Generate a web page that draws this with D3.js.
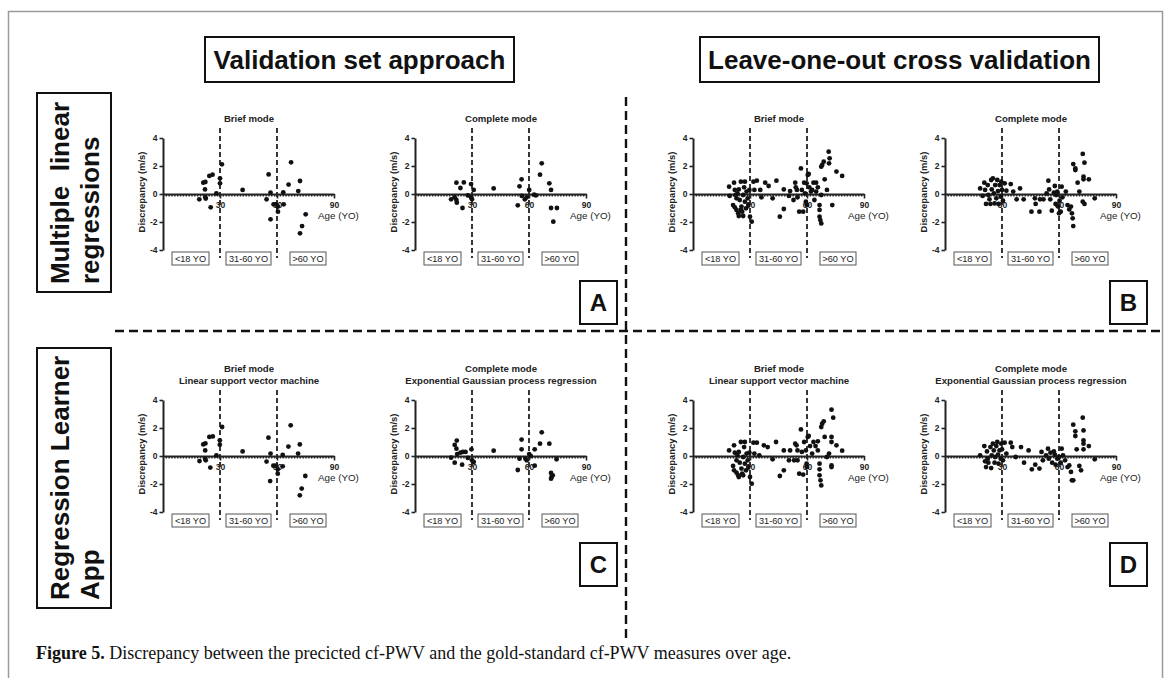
<!DOCTYPE html>
<html>
<head>
<meta charset="utf-8">
<script src="https://cdn.jsdelivr.net/npm/d3@7"></script>
<style>
  body { margin: 0; background: #fff; }
  svg { display: block; font-family: "Liberation Sans", Arial, sans-serif; }
</style>
</head>
<body>
<div id="fig"></div>
<script>
// ---- data ----
const ageGroups = ["<18 YO", "31-60 YO", ">60 YO"]
const xTicks = [30, 60, 90]
const yTicks = [-4, -2, 0, 2, 4]
const ageCutoffs = [30, 60]
const methodLabels = ["Validation set approach", "Leave-one-out cross validation"]
const modelLabels = [["Multiple  linear", "regressions"], ["Regression Learner", "App"]]
const panelLetters = ["A", "B", "C", "D"]
const row1Titles = [["Brief mode"], ["Complete mode"]]
const row2Titles = [["Brief mode", "Linear support vector machine"], ["Complete mode", "Exponential Gaussian process regression"]]
const caption = "Discrepancy between the precicted cf-PWV and the gold-standard cf-PWV measures over age."

// [age, discrepancy]
const mlrVsaBrief = [[19.1,-0.38],[21.2,0.81],[22.3,0.86],[22.1,0.33],[22.3,-0.24],[22.5,-0.33],[24.4,1.29],[26.1,1.38],[25.1,-0.95],[28.1,0.05],[30.0,1.12],[30.0,0.76],[31.0,2.12],[41.9,0.29],[54.5,-0.38],[55.6,1.40],[56.6,0.10],[56.6,-1.81],[58.2,-0.74],[59.5,-0.74],[60.5,-1.26],[60.5,-0.90],[63.3,0.12],[63.5,-0.74],[66.1,0.67],[67.4,2.26],[71.2,0.21],[72.1,0.93],[72.1,-2.81],[73.2,-2.29],[75.1,-1.45]]
const mlrVsaComplete = [[19.0,-0.38],[20.9,-0.24],[21.8,0.81],[21.8,-0.43],[22.0,-0.62],[23.9,0.43],[25.0,-1.00],[25.7,0.83],[27.8,-0.10],[29.5,0.71],[29.5,-0.24],[30.0,-0.38],[30.9,0.29],[41.4,0.40],[54.1,-0.81],[55.0,0.55],[56.1,1.05],[56.2,-0.14],[57.8,-0.38],[58.8,-0.24],[60.1,0.29],[62.7,-0.05],[63.6,-0.10],[65.8,1.38],[66.7,2.19],[70.7,0.76],[71.6,0.29],[71.6,-1.00],[72.8,-1.98],[74.7,-1.00]]
const mlrLooBrief = [[19.0,0.52],[19.3,-0.14],[21.6,0.81],[22.0,0.29],[21.1,-0.79],[22.0,-0.95],[22.9,-1.14],[23.8,-1.38],[24.1,-1.57],[22.9,-0.31],[23.4,0.05],[24.1,0.33],[25.2,0.88],[24.6,-0.43],[25.5,-0.90],[25.9,-1.26],[26.4,-0.07],[26.9,0.48],[27.3,0.88],[27.3,-0.55],[27.9,-1.02],[28.2,0.17],[28.8,-0.31],[29.1,-0.79],[26.4,-1.57],[25.2,-1.14],[22.4,-0.07],[29.7,0.29],[30.0,-1.62],[30.9,-1.98],[31.8,0.88],[32.3,0.29],[33.6,0.95],[35.4,0.29],[36.0,-0.24],[38.0,0.81],[39.8,0.57],[41.9,-0.31],[43.9,0.95],[45.7,-1.62],[47.8,-1.07],[47.8,0.33],[50.5,-0.14],[51.1,0.21],[52.9,-0.43],[53.8,0.81],[54.1,0.48],[54.7,0.29],[55.0,-0.24],[55.9,-1.26],[56.8,1.83],[57.3,0.29],[58.0,-1.26],[58.5,0.81],[58.9,0.05],[59.4,-0.55],[59.8,0.76],[60.0,-0.79],[60.4,1.36],[60.9,1.43],[61.2,0.48],[62.1,0.17],[62.7,0.29],[63.4,0.81],[63.9,-0.43],[64.8,0.81],[64.8,0.17],[65.7,0.48],[66.6,-0.79],[66.6,-1.14],[66.6,-1.62],[67.0,-1.86],[67.5,-2.10],[67.5,-0.07],[67.5,1.95],[68.0,2.07],[68.8,2.31],[69.3,1.05],[70.5,0.29],[71.4,3.02],[71.9,2.55],[71.6,2.19],[73.3,-0.79],[75.5,1.60],[78.5,1.29]]
const mlrLooComplete = [[18.5,0.40],[19.8,-0.14],[20.7,0.81],[21.1,0.29],[21.6,-0.71],[22.5,0.64],[22.8,-0.07],[23.4,-0.38],[23.9,-0.71],[24.3,1.00],[24.6,0.33],[25.2,1.12],[25.7,0.05],[26.1,-0.67],[26.4,0.64],[27.0,-0.31],[27.5,1.00],[27.9,0.21],[28.2,-0.71],[28.7,0.64],[29.3,-0.19],[29.6,0.88],[30.0,0.29],[30.5,-0.48],[31.4,0.76],[32.3,0.24],[34.6,0.71],[35.9,0.17],[37.7,-0.38],[39.5,0.40],[41.4,-0.38],[45.5,-1.26],[47.3,-0.31],[47.7,-0.71],[49.7,-1.26],[50.0,-0.38],[51.8,-0.38],[53.5,0.05],[54.4,0.95],[54.8,0.33],[55.4,-0.38],[56.2,-1.19],[57.3,0.10],[57.8,0.57],[58.2,-0.71],[58.5,-0.07],[59.1,0.17],[59.6,-0.90],[60.0,-1.38],[60.3,-0.48],[60.9,-1.26],[61.4,0.52],[61.8,-0.24],[63.6,0.17],[64.5,-0.79],[65.4,-1.10],[66.3,-0.90],[66.8,-1.38],[67.2,-1.74],[67.5,-2.29],[67.5,2.14],[68.6,1.83],[68.6,1.71],[69.8,0.81],[70.7,0.17],[72.5,2.86],[72.9,1.05],[72.9,1.24],[73.4,2.24],[72.5,-0.55],[73.4,-0.71],[75.7,1.05],[78.8,-0.31]]
const rlaVsaBrief = [[19.2,-0.36],[21.2,0.83],[22.3,0.90],[22.2,0.40],[22.2,-0.19],[22.5,-0.31],[24.4,1.36],[26.2,1.40],[24.9,-0.83],[28.1,0.05],[29.9,1.12],[29.9,0.81],[31.1,2.07],[41.9,0.33],[54.5,-0.40],[55.5,1.31],[56.6,0.17],[56.4,-1.79],[58.1,-0.69],[59.3,-0.69],[60.4,-1.26],[60.4,-0.95],[63.0,0.07],[63.0,-0.74],[66.0,0.67],[67.2,2.19],[71.1,0.17],[72.0,0.83],[72.0,-2.81],[73.0,-2.33],[74.9,-1.43]]
const rlaVsaComplete = [[19.0,-0.12],[20.9,0.79],[22.0,1.10],[21.8,0.52],[20.9,-0.48],[22.2,0.14],[23.9,0.24],[25.3,0.29],[24.8,-0.62],[26.6,0.29],[27.8,-0.14],[29.7,0.48],[30.0,-0.31],[30.9,-0.43],[41.4,0.38],[54.1,-1.00],[55.0,-0.19],[56.1,1.17],[56.1,0.48],[58.1,-0.19],[58.8,-0.31],[60.1,0.14],[60.9,0.00],[63.0,-0.69],[63.0,0.48],[65.8,0.88],[66.7,1.69],[70.7,0.88],[71.6,-1.21],[71.9,-1.50],[71.6,-1.62],[72.5,-1.38],[74.5,-0.24]]
const rlaLooBrief = [[19.0,0.40],[21.6,0.76],[22.0,0.24],[21.1,-0.71],[21.6,-1.02],[22.9,-1.19],[23.8,-1.38],[24.1,-1.50],[22.9,-0.31],[23.4,0.05],[24.1,0.29],[25.2,1.00],[24.6,-0.48],[25.5,-0.90],[25.9,-1.26],[26.4,-0.07],[26.9,0.64],[27.3,1.00],[27.3,-0.55],[27.9,-1.02],[28.2,0.17],[28.8,-0.31],[29.1,-0.79],[26.4,-1.38],[29.7,0.24],[30.0,-1.50],[30.9,-1.98],[31.8,0.95],[32.3,0.17],[33.6,0.95],[34.9,0.05],[37.3,0.76],[39.3,0.64],[41.9,-0.24],[43.7,1.00],[45.7,-1.43],[47.8,-1.02],[47.8,0.40],[50.5,-0.31],[51.1,0.40],[53.2,-0.31],[53.8,0.88],[54.5,0.76],[55.0,0.40],[55.0,-0.31],[55.9,-1.26],[56.8,1.90],[57.3,0.29],[58.0,-1.33],[58.5,1.00],[59.4,0.40],[59.8,-0.55],[60.0,-0.79],[60.4,1.36],[60.9,1.43],[61.6,0.71],[62.7,0.17],[63.4,1.00],[64.5,0.71],[65.7,1.05],[65.7,0.40],[66.6,-0.55],[66.6,-0.95],[66.6,-1.38],[67.1,-1.74],[67.5,-2.10],[67.5,2.07],[68.0,2.31],[68.8,2.48],[69.3,1.36],[70.5,-0.07],[71.6,0.17],[72.9,3.31],[73.8,2.74],[72.9,1.36],[72.9,1.00],[72.9,-0.67],[72.9,-0.79],[75.5,0.76],[78.5,0.38]]
const rlaLooComplete = [[18.5,0.05],[20.7,0.71],[21.1,-0.38],[21.6,-0.79],[22.1,0.33],[22.5,-0.19],[22.8,-0.48],[23.9,0.64],[24.3,-0.86],[24.6,0.05],[25.2,0.88],[25.7,0.40],[26.1,-0.48],[26.4,-0.07],[27.0,0.71],[27.5,1.00],[27.9,0.10],[28.2,-0.55],[28.7,0.40],[29.3,-0.19],[29.6,0.88],[30.0,0.48],[30.5,-0.31],[31.4,0.95],[32.3,0.17],[34.6,0.95],[35.4,0.64],[37.2,-0.07],[40.0,0.64],[41.6,-0.48],[44.0,0.40],[45.7,-0.95],[47.5,-0.62],[49.7,-0.90],[50.8,0.29],[51.5,-0.31],[53.2,0.05],[54.2,0.52],[54.6,-0.19],[55.5,0.24],[56.4,-0.48],[57.3,0.33],[57.8,0.10],[58.2,-0.62],[59.1,-0.19],[60.0,-0.07],[60.9,-0.48],[61.4,0.52],[62.1,0.05],[63.2,-0.31],[64.5,-0.79],[65.4,-0.67],[66.3,-1.14],[66.8,-1.74],[67.5,-1.74],[67.5,2.24],[68.6,1.76],[68.6,1.43],[69.3,0.48],[70.7,-0.71],[71.6,-1.02],[72.5,2.74],[72.9,1.83],[72.9,1.12],[72.9,0.88],[72.9,0.48],[75.7,0.71],[78.8,-0.24]]

// ---- layout ----
const width = 1171
const height = 678
const colX = [163, 415, 693, 945]   // y-axis position of each scatter
const rowY = [194, 456]             // zero line of each row
const plotW = 171
const halfH = 56

const svg = d3.select("#fig").append("svg")
  .attr("width", width)
  .attr("height", height)
  .attr("viewBox", [0, 0, width, height])

// outer frame
svg.append("rect")
  .attr("x", 8.5).attr("y", 11.5)
  .attr("width", 1154).attr("height", 700)
  .attr("fill", "none").attr("stroke", "#9a9a9a").attr("stroke-width", 1.5)

// method headers
const headers = [{x: 205, w: 309}, {x: 700, w: 399}]
headers.forEach((h, i) => {
  svg.append("rect")
    .attr("x", h.x).attr("y", 37).attr("width", h.w).attr("height", 45)
    .attr("fill", "none").attr("stroke", "#111").attr("stroke-width", 2)
  svg.append("text")
    .attr("x", h.x + h.w / 2).attr("y", 68.5)
    .attr("text-anchor", "middle")
    .attr("font-size", 26).attr("font-weight", "bold").attr("fill", "#111")
    .text(methodLabels[i])
})

// model row labels (rotated)
const rowBoxes = [{y: 93, h: 199}, {y: 348, h: 260}]
rowBoxes.forEach((b, i) => {
  svg.append("rect")
    .attr("x", 37).attr("y", b.y).attr("width", 74).attr("height", b.h)
    .attr("fill", "none").attr("stroke", "#111").attr("stroke-width", 2)
  const bottom = b.y + b.h - 8
  modelLabels[i].forEach((line, j) => {
    svg.append("text")
      .attr("transform", `translate(${69 + j * 30},${bottom}) rotate(-90)`)
      .attr("font-size", 26).attr("font-weight", "bold").attr("fill", "#111")
      .style("white-space", "pre")
      .text(line)
  })
})

// separators
svg.append("line")
  .attr("x1", 115).attr("x2", 1160).attr("y1", 331).attr("y2", 331)
  .attr("stroke", "#111").attr("stroke-width", 2.4).attr("stroke-dasharray", "9,5")
svg.append("line")
  .attr("x1", 626).attr("x2", 626).attr("y1", 97).attr("y2", 640)
  .attr("stroke", "#111").attr("stroke-width", 2.4).attr("stroke-dasharray", "9,5")

// panel letters
const letterPos = [[580, 281], [1110, 281], [580, 543], [1110, 543]]
letterPos.forEach((p, i) => {
  svg.append("rect")
    .attr("x", p[0]).attr("y", p[1]).attr("width", 37).attr("height", 43)
    .attr("fill", "#fff").attr("stroke", "#111").attr("stroke-width", 2)
  svg.append("text")
    .attr("x", p[0] + 18.5).attr("y", p[1] + 30)
    .attr("text-anchor", "middle")
    .attr("font-size", 24).attr("font-weight", "bold").attr("fill", "#111")
    .text(panelLetters[i])
})

// caption
const cap = svg.append("text")
  .attr("x", 36).attr("y", 659)
  .attr("font-family", "'Liberation Serif', 'Times New Roman', serif")
  .attr("font-size", 18).attr("fill", "#111")
cap.append("tspan").attr("font-weight", "bold").text("Figure 5.")
cap.append("tspan").text(" " + caption)

// age-group boxes, offsets from the y axis
const groupBoxes = [[9, 37], [63, 45], [127, 36]]

function scatter(x0, y0, data, titleLines) {
  const g = svg.append("g")
  const x = d3.scaleLinear().domain([0, 90]).range([x0, x0 + plotW])
  const y = d3.scaleLinear().domain([-4, 4]).range([y0 + halfH, y0 - halfH])

  // title
  titleLines.forEach((t, i) => {
    g.append("text")
      .attr("x", x0 + 86)
      .attr("y", y(4) - 16 - (titleLines.length - 1 - i) * 12.5)
      .attr("text-anchor", "middle")
      .attr("font-size", 9.6).attr("font-weight", "bold").attr("fill", "#222")
      .text(t)
  })

  // age cut-off lines
  g.selectAll("line.cut")
    .data(ageCutoffs)
    .join("line")
    .attr("class", "cut")
    .attr("x1", d => x(d)).attr("x2", d => x(d))
    .attr("y1", y(4) - 10).attr("y2", y(-4) + 8)
    .attr("stroke", "#222").attr("stroke-width", 1.8).attr("stroke-dasharray", "5,3")

  // minor x ticks (dotted look)
  const minor = g.append("g")
    .attr("transform", `translate(0,${y0})`)
    .call(d3.axisBottom(x).tickValues(d3.range(1.5, 90, 1.5)).tickSize(2.5).tickFormat(""))
  minor.select(".domain").remove()
  minor.selectAll(".tick line").attr("stroke", "#222").attr("stroke-width", 1.4)

  // major x axis
  const ax = g.append("g")
    .attr("transform", `translate(0,${y0})`)
    .call(d3.axisBottom(x).tickValues(xTicks).tickSize(4.5).tickSizeOuter(0).tickPadding(3))
  ax.select(".domain").attr("stroke", "#222").attr("stroke-width", 2)
  ax.selectAll(".tick line").attr("stroke", "#222").attr("stroke-width", 1.6)
  ax.selectAll(".tick text")
    .attr("font-family", "'Liberation Sans', Arial, sans-serif")
    .attr("font-size", 8.5).attr("font-weight", "bold").attr("fill", "#222")

  g.append("text")
    .attr("x", x0 + 155).attr("y", y0 + 25)
    .attr("font-size", 9.8).attr("fill", "#222")
    .text("Age (YO)")

  // y axis
  const ay = g.append("g")
    .attr("transform", `translate(${x0},0)`)
    .call(d3.axisLeft(y).tickValues(yTicks).tickSize(3.5).tickSizeOuter(0).tickPadding(2)
      .tickFormat(d => String(d)))
  ay.select(".domain").attr("stroke", "#222").attr("stroke-width", 2)
  ay.selectAll(".tick line").attr("stroke", "#222").attr("stroke-width", 1.6)
  ay.selectAll(".tick text")
    .attr("font-family", "'Liberation Sans', Arial, sans-serif")
    .attr("font-size", 8.5).attr("font-weight", "bold").attr("fill", "#222")

  g.append("text")
    .attr("transform", `translate(${x0 - 18},${y0 - 2}) rotate(-90)`)
    .attr("text-anchor", "middle")
    .attr("font-size", 9.4).attr("font-weight", "bold").attr("fill", "#222")
    .text("Discrepancy (m/s)")

  // points
  g.append("g")
    .selectAll("circle")
    .data(data)
    .join("circle")
    .attr("cx", d => x(d[0]))
    .attr("cy", d => y(d[1]))
    .attr("r", 2.4)
    .attr("fill", "#111")

  // age groups
  groupBoxes.forEach((b, i) => {
    g.append("rect")
      .attr("x", x0 + b[0]).attr("y", y(-4) + 2)
      .attr("width", b[1]).attr("height", 13)
      .attr("fill", "#fff").attr("stroke", "#555").attr("stroke-width", 1)
    g.append("text")
      .attr("x", x0 + b[0] + b[1] / 2).attr("y", y(-4) + 12)
      .attr("text-anchor", "middle")
      .attr("font-size", 9.2).attr("fill", "#222")
      .text(ageGroups[i])
  })
}

const panels = [
  {col: 0, row: 0, data: mlrVsaBrief, title: row1Titles[0]},
  {col: 1, row: 0, data: mlrVsaComplete, title: row1Titles[1]},
  {col: 2, row: 0, data: mlrLooBrief, title: row1Titles[0]},
  {col: 3, row: 0, data: mlrLooComplete, title: row1Titles[1]},
  {col: 0, row: 1, data: rlaVsaBrief, title: row2Titles[0]},
  {col: 1, row: 1, data: rlaVsaComplete, title: row2Titles[1]},
  {col: 2, row: 1, data: rlaLooBrief, title: row2Titles[0]},
  {col: 3, row: 1, data: rlaLooComplete, title: row2Titles[1]}
]
panels.forEach(p => scatter(colX[p.col], rowY[p.row], p.data, p.title))
</script>
</body>
</html>
